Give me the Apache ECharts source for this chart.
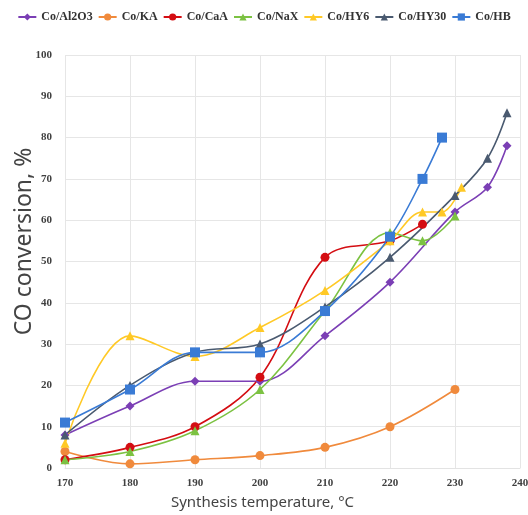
<!DOCTYPE html>
<html>
<head>
<meta charset="utf-8">
<script src="https://cdn.jsdelivr.net/npm/echarts@6/dist/echarts.min.js"></script>
<style>
    html, body {margin: 0; padding: 0; background: #fff;}
    #chart {width: 528px; height: 515px;}
</style>
</head>
<body>
<div id="chart"></div>
<script>
// temperature / conversion pairs
var al2o3X = [170, 180, 190, 200, 210, 220, 230, 235, 238];
var al2o3Y = [8, 15, 21, 21, 32, 45, 62, 68, 78];
var kaX = [170, 180, 190, 200, 210, 220, 230];
var kaY = [4, 1, 2, 3, 5, 10, 19];
var caaX = [170, 180, 190, 200, 210, 220, 225];
var caaY = [2, 5, 10, 22, 51, 55, 59];
var naxX = [170, 180, 190, 200, 210, 220, 225, 230];
var naxY = [2, 4, 9, 19, 38, 57, 55, 61];
var hy6X = [170, 180, 190, 200, 210, 220, 225, 228, 231];
var hy6Y = [6, 32, 27, 34, 43, 55, 62, 62, 68];
var hy30X = [170, 180, 190, 200, 210, 220, 230, 235, 238];
var hy30Y = [8, 20, 28, 30, 39, 51, 66, 75, 86];
var hbX = [170, 180, 190, 200, 210, 220, 225, 228];
var hbY = [11, 19, 28, 28, 38, 56, 70, 80];

var names = ['Co/Al2O3', 'Co/KA', 'Co/CaA', 'Co/NaX', 'Co/HY6', 'Co/HY30', 'Co/HB'];
var colors = ['#7b3fb5', '#f08a3c', '#d40d12', '#7cc242', '#ffc926', '#4a5a70', '#3a7bd5'];
var symbols = ['diamond', 'circle', 'circle', 'triangle', 'triangle', 'triangle', 'rect'];
var sizes = [9, 9, 9, 9, 9, 9, 10];
var xs = [al2o3X, kaX, caaX, naxX, hy6X, hy30X, hbX];
var ys = [al2o3Y, kaY, caaY, naxY, hy6Y, hy30Y, hbY];

function pairs(a, b) {
    var out = [];
    for (var i = 0; i < a.length; i++) {
        out.push([a[i], b[i]]);
    }
    return out;
}

var series = [];
for (var i = 0; i < names.length; i++) {
    series.push({
        name: names[i],
        type: 'line',
        smooth: 0.35,
        symbol: symbols[i],
        symbolSize: sizes[i],
        color: colors[i],
        lineStyle: {width: 1.6},
        data: pairs(xs[i], ys[i])
    });
}

var tickFont = {
    fontFamily: 'Liberation Serif',
    fontWeight: 'bold',
    fontSize: 11,
    color: '#404040'
};

var chart = echarts.init(document.getElementById('chart'));
var option = {
    animation: false,
    legend: {
        top: 6,
        left: 'center',
        itemWidth: 18,
        itemHeight: 9,
        itemGap: 5,
        textStyle: {
            fontFamily: 'Liberation Serif',
            fontWeight: 'bold',
            fontSize: 12,
            color: '#333'
        },
        data: names
    },
    grid: {
        left: 65,
        right: 8,
        top: 55,
        bottom: 47,
        outerBoundsMode: 'none'
    },
    xAxis: {
        type: 'value',
        min: 170,
        max: 240,
        interval: 10,
        name: 'Synthesis temperature, °C',
        nameLocation: 'middle',
        nameGap: 27,
        nameTextStyle: {
            fontFamily: 'Noto Sans',
            fontSize: 15,
            color: '#444',
            padding: [0, 60, 0, 0]
        },
        axisLine: {lineStyle: {color: '#e3e3e3'}},
        axisTick: {show: false},
        axisLabel: Object.assign({margin: 10}, tickFont),
        splitLine: {lineStyle: {color: '#e6e6e6'}}
    },
    yAxis: {
        type: 'value',
        min: 0,
        max: 100,
        interval: 10,
        name: 'CO conversion, %',
        nameLocation: 'middle',
        nameGap: 29,
        nameMoveOverlap: false,
        nameTextStyle: {
            fontFamily: 'Noto Sans',
            fontSize: 23,
            color: '#444',
            padding: [0, 0, 0, 40]
        },
        axisLine: {show: false},
        axisTick: {show: false},
        axisLabel: Object.assign({margin: 13}, tickFont),
        splitLine: {lineStyle: {color: '#e6e6e6'}}
    },
    series: series
};
chart.setOption(option);
</script>
</body>
</html>
